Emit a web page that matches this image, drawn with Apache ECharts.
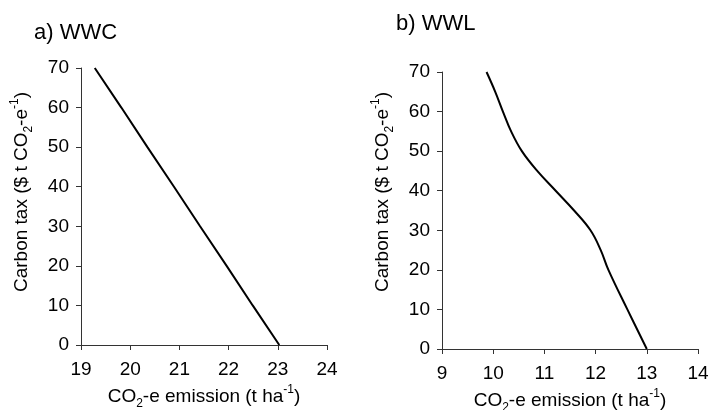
<!DOCTYPE html>
<html>
<head>
<meta charset="utf-8">
<script src="https://cdn.jsdelivr.net/npm/echarts@6/dist/echarts.min.js"></script>
<style>
html,body{margin:0;padding:0;background:#fff;}
#chart{width:709px;height:410px;}
</style>
</head>
<body>
<div id="chart"></div>
<script>
// Panel a) WWC
var wwcTax = [0, 10, 20, 30, 40, 50, 60, 70];
var wwcEmission = [23.03, 22.49, 21.96, 21.42, 20.89, 20.35, 19.82, 19.28];
// Panel b) WWL
var wwlTax = [0, 10, 20, 25, 30, 35, 40, 45, 50, 55, 60, 65, 70];
var wwlEmission = [13.0, 12.62, 12.25, 12.10, 11.90, 11.58, 11.22, 10.86, 10.56, 10.35, 10.19, 10.04, 9.87];
var titles = ['a) WWC', 'b) WWL'];
var xRangeA = [19, 24];
var xRangeB = [9, 14];
var yRange = [0, 70];

function pairs(xs, ys) { return xs.map(function (x, i) { return [x, ys[i]]; }); }

var FONT = 'Liberation Sans, Arial, sans-serif';
var rich = {
  n: { fontSize: 19, fontFamily: FONT, color: '#000', lineHeight: 26, verticalAlign: 'middle' },
  sub: { fontSize: 12, fontFamily: FONT, color: '#000', lineHeight: 26, verticalAlign: 'bottom' },
  sup: { fontSize: 12, fontFamily: FONT, color: '#000', lineHeight: 26, verticalAlign: 'top' }
};
var xName = '{n|CO}{sub|2}{n|-e emission (t ha}{sup|-1}{n|)}';
var yName = '{n|Carbon tax ($ t CO}{sub|2}{n|-e}{sup|-1}{n|)}';

function xAxis(idx, r) {
  return {
    type: 'value', gridIndex: idx, min: r[0], max: r[1], interval: 1,
    name: xName, nameLocation: 'middle', nameGap: 36,
    nameTextStyle: { rich: rich },
    axisLine: { lineStyle: { color: '#333', width: 1 } },
    axisTick: { show: true, inside: false, length: 5, lineStyle: { color: '#333' } },
    axisLabel: { fontSize: 19, fontFamily: FONT, color: '#000', margin: 15 },
    splitLine: { show: false }
  };
}
function yAxis(idx, pad) {
  return {
    type: 'value', gridIndex: idx, min: yRange[0], max: yRange[1], interval: 10,
    name: yName, nameLocation: 'middle', nameGap: 46,
    nameTextStyle: { rich: rich, padding: [0, 0, 0, pad] },
    axisLine: { show: true, lineStyle: { color: '#333', width: 1 } },
    axisTick: { show: true, inside: false, length: 5, lineStyle: { color: '#333' } },
    axisLabel: { fontSize: 19, fontFamily: FONT, color: '#000', margin: 12 },
    splitLine: { show: false }
  };
}

var chart = echarts.init(document.getElementById('chart'), null, { renderer: 'canvas' });
chart.setOption({
  animation: false,
  backgroundColor: '#fff',
  title: [
    { text: titles[0], left: 29, top: 17, textStyle: { fontSize: 22, fontWeight: 'normal', fontFamily: FONT, color: '#000' } },
    { text: titles[1], left: 391, top: 8, textStyle: { fontSize: 22, fontWeight: 'normal', fontFamily: FONT, color: '#000' } }
  ],
  grid: [
    { left: 81, top: 68, width: 246, height: 277, outerBoundsMode: 'none', containLabel: false },
    { left: 442, top: 72, width: 256, height: 277, outerBoundsMode: 'none', containLabel: false }
  ],
  xAxis: [xAxis(0, xRangeA), xAxis(1, xRangeB)],
  yAxis: [yAxis(0, 29), yAxis(1, 37)],
  series: [
    { type: 'line', xAxisIndex: 0, yAxisIndex: 0, data: pairs(wwcEmission, wwcTax), showSymbol: false, lineStyle: { color: '#000', width: 2 } },
    { type: 'line', xAxisIndex: 1, yAxisIndex: 1, data: pairs(wwlEmission, wwlTax), showSymbol: false, smooth: 0.4, lineStyle: { color: '#000', width: 2 } }
  ]
});
</script>
</body>
</html>
